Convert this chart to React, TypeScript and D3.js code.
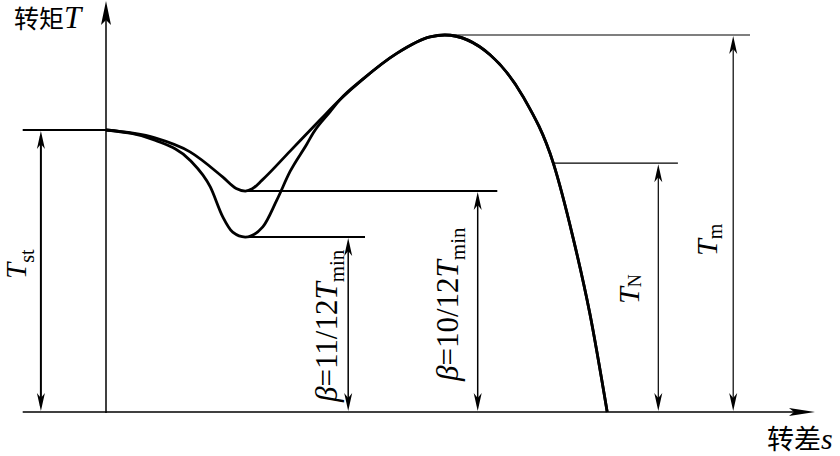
import React from "react";
import * as d3 from "d3";

// ---- data (slip s in arbitrary units, torque T as % of Tm) ----
const slipUpper = [0, 7, 12, 16.7, 18.6, 19.9, 20.9, 22.3, 26.3, 30.6];
const torqueUpper = [74.8, 72.7, 69, 62.3, 59.3, 58.6, 59.2, 61.5, 69.2, 77.5];
const slipLower = [0, 7, 12, 14.9, 16.7, 18.1, 19.9, 22.4, 24.4, 26.3, 28.7, 29.6, 32];
const torqueLower = [74.8, 72.1, 66.8, 59.7, 51.7, 47.7, 46.4, 49.1, 56.2, 63.8, 71.1, 74, 79.6];
const slipCommon = [33.4, 36.7, 41.6, 46.3, 48.4, 54.9, 59.6, 63.9, 66.7, 69.1, 71.6];
const torqueCommon = [82.8, 88.3, 95.2, 99.5, 100, 94.7, 83.6, 66, 46.4, 26.3, 0];

const T_st = 74.8;
const T_min10 = 58.6;
const T_min11 = 46.4;
const T_N = 66;
const T_m = 100;
const s_min = 19.9;
const s_peak = 47.5;
const s_N = 63.9;

// reference line extents / dimension positions (slip units)
const stLineFrom = -11.9;
const min10LineTo = 55.9;
const min11LineTo = 37;
const peakLineTo = 92;
const nLineTo = 81.7;
const dimSt = -9.3;
const dim11 = 34.6;
const dim10 = 53.1;
const dimN = 78.9;
const dimM = 89.6;

const W = 840;
const H = 456;

const x = d3.scaleLinear().domain([0, 100]).range([106, 806]);
const y = d3.scaleLinear().domain([0, 100]).range([412, 35]);

const line = d3
  .line<[number, number]>()
  .x((d) => x(d[0]))
  .y((d) => y(d[1]))
  .curve(d3.curveMonotoneX);

const zip = (a: number[], b: number[]) => a.map((v, i) => [v, b[i]] as [number, number]);
const upperPts = [...zip(slipUpper, torqueUpper), ...zip(slipCommon, torqueCommon)];
const lowerPts = [...zip(slipLower, torqueLower), ...zip(slipCommon, torqueCommon)];

function head(tx: number, ty: number, dx: number, dy: number, L = 18, w = 4) {
  const nx = -dy, ny = dx;
  const bx = tx - dx * L, by = ty - dy * L;
  const mx = tx - dx * (L - 5), my = ty - dy * (L - 5);
  return `M${tx},${ty}L${bx + nx * w},${by + ny * w}L${mx},${my}L${bx - nx * w},${by - ny * w}Z`;
}

function Dim({ s, t1, t2, sw = 1.3 }: { s: number; t1: number; t2: number; sw?: number }) {
  const px = x(s);
  const y1 = y(t1);
  const y2 = y(t2);
  return (
    <g>
      <line x1={px} x2={px} y1={y1 - 6} y2={y2 + 6} stroke="#000" strokeWidth={sw} />
      <path d={head(px, y1 - 1, 0, 1)} fill="#000" />
      <path d={head(px, y2 + 1, 0, -1)} fill="#000" />
    </g>
  );
}

const serif = '"Liberation Serif", "DejaVu Serif", "Times New Roman", serif';
const cjk = '"Noto Sans CJK SC", sans-serif';

export default function App() {
  const x0 = x(0);
  const y0 = y(0);
  return (
    <svg width={W} height={H} style={{ position: "absolute", left: 0, top: 0, background: "#fff" }}>
      <rect width={W} height={H} fill="#fff" />
      {/* axes */}
      <line x1={x0} x2={x0} y1={y0 + 1} y2={8} stroke="#000" strokeWidth={1.5} />
      <path d={head(x0, 1, 0, -1, 24, 5)} fill="#000" />
      <line x1={x(stLineFrom)} x2={806} y1={y0} y2={y0} stroke="#000" strokeWidth={1.5} />
      <path d={head(815, y0, 1, 0, 26, 4)} fill="#000" />

      {/* reference horizontal lines */}
      <line x1={x(stLineFrom)} x2={x0} y1={y(T_st)} y2={y(T_st)} stroke="#000" strokeWidth={2} />
      <line x1={x(s_min)} x2={x(min10LineTo)} y1={y(T_min10)} y2={y(T_min10)} stroke="#000" strokeWidth={2} />
      <line x1={x(s_min)} x2={x(min11LineTo)} y1={y(T_min11)} y2={y(T_min11)} stroke="#000" strokeWidth={2} />
      <line x1={x(s_peak)} x2={x(peakLineTo)} y1={y(T_m)} y2={y(T_m)} stroke="#000" strokeWidth={1.2} />
      <line x1={x(s_N)} x2={x(nLineTo)} y1={y(T_N)} y2={y(T_N)} stroke="#000" strokeWidth={1.2} />

      {/* curves */}
      <path d={line(upperPts) || ""} fill="none" stroke="#000" strokeWidth={2.8} strokeLinejoin="round" />
      <path d={line(lowerPts) || ""} fill="none" stroke="#000" strokeWidth={2.8} strokeLinejoin="round" />

      {/* dimension arrows */}
      <Dim s={dimSt} t1={0} t2={T_st} sw={2} />
      <Dim s={dim11} t1={0} t2={T_min11} sw={1.5} />
      <Dim s={dim10} t1={0} t2={T_min10} sw={1.5} />
      <Dim s={dimN} t1={0} t2={T_N} sw={1.2} />
      <Dim s={dimM} t1={0} t2={T_m} sw={1.2} />

      {/* labels */}
      <text x={14} y={28} fontFamily={cjk} fontSize={25} fill="#000">
        转矩<tspan fontFamily={serif} fontStyle="italic" fontSize={31}>T</tspan>
      </text>
      <text x={767} y={449} fontFamily={cjk} fontSize={27} fill="#000">
        转差<tspan fontFamily={serif} fontStyle="italic" fontSize={30}>s</tspan>
      </text>

      <text transform={`translate(26,279) rotate(-90)`} fontFamily={serif} fontSize={29} fill="#000">
        <tspan fontStyle="italic">T</tspan>
        <tspan fontSize={20} dy={8}>st</tspan>
      </text>
      <text transform={`translate(337,402) rotate(-90)`} fontFamily={serif} fontSize={31} fill="#000">
        <tspan fontStyle="italic">β</tspan>=11/12<tspan fontStyle="italic">T</tspan>
        <tspan fontSize={21} dy={7}>min</tspan>
      </text>
      <text transform={`translate(458,381) rotate(-90)`} fontFamily={serif} fontSize={31} fill="#000">
        <tspan fontStyle="italic">β</tspan>=10/12<tspan fontStyle="italic">T</tspan>
        <tspan fontSize={21} dy={7}>min</tspan>
      </text>
      <text transform={`translate(639,304) rotate(-90)`} fontFamily={serif} fontSize={30} fill="#000">
        <tspan fontStyle="italic">T</tspan>
        <tspan fontSize={18} dy={2}>N</tspan>
      </text>
      <text transform={`translate(717,256) rotate(-90)`} fontFamily={serif} fontSize={30} fill="#000">
        <tspan fontStyle="italic">T</tspan>
        <tspan fontSize={20} dy={5}>m</tspan>
      </text>
    </svg>
  );
}
